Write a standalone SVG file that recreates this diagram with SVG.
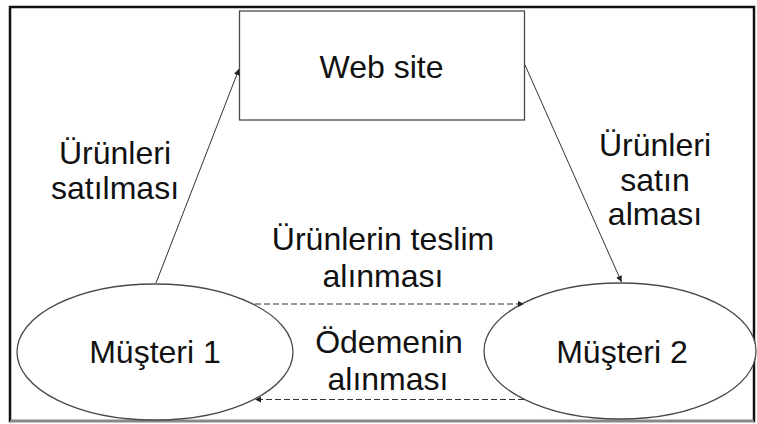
<svg xmlns="http://www.w3.org/2000/svg" width="757" height="424" viewBox="0 0 757 424">
  <style>
    .t { font-family: "Liberation Sans", Arial, sans-serif; font-size: 30.5px; fill: #111; text-anchor: middle; }
    .shape { fill: #fff; stroke: #4a4a4a; stroke-width: 1.3; }
    .solid { stroke: #333; stroke-width: 1; fill: none; }
    .dash { stroke: #333; stroke-width: 1; fill: none; stroke-dasharray: 6 3; }
  </style>
  <defs>
    <marker id="ah" viewBox="0 0 10 10" refX="10" refY="5" markerWidth="7" markerHeight="6" markerUnits="userSpaceOnUse" orient="auto">
      <path d="M0,0 L10,5 L0,10 z" fill="#222"/>
    </marker>
  </defs>
  <rect x="0" y="0" width="757" height="424" fill="#fff"/>
  <rect id="frame" x="10" y="7" width="744" height="414" fill="none" stroke="#111" stroke-width="2.5"/>
  <line x1="10" y1="421" x2="754" y2="421" stroke="#888" stroke-width="2"/>

  <g id="website">
    <rect class="shape" x="239.5" y="11" width="285" height="109"/>
    <text class="t" transform="translate(381.5,78) scale(1.05,1)">Web site</text>
  </g>
  <g id="musteri1">
    <ellipse class="shape" cx="155" cy="352" rx="138" ry="68"/>
    <text class="t" transform="translate(155,363) scale(1.05,1)">Müşteri 1</text>
  </g>
  <g id="musteri2">
    <ellipse class="shape" cx="620" cy="351" rx="136" ry="68"/>
    <text class="t" transform="translate(622,363) scale(1.05,1)">Müşteri 2</text>
  </g>

  <g id="connectors">
    <line class="solid" x1="156" y1="283" x2="239" y2="69" marker-end="url(#ah)"/>
    <line class="solid" x1="525" y1="65" x2="621.5" y2="282" marker-end="url(#ah)"/>
    <line class="dash" x1="255" y1="304" x2="524" y2="304" marker-end="url(#ah)"/>
    <line class="dash" x1="524" y1="399.5" x2="255" y2="399.5" marker-end="url(#ah)"/>
  </g>

  <g id="labels">
    <text class="t" transform="translate(115,164) scale(1.05,1)">Ürünleri</text>
    <text class="t" transform="translate(115,199) scale(1.05,1)">satılması</text>
    <text class="t" transform="translate(655,156) scale(1.05,1)">Ürünleri</text>
    <text class="t" transform="translate(655,191) scale(1.05,1)">satın</text>
    <text class="t" transform="translate(655,225) scale(1.05,1)">alması</text>
    <text class="t" transform="translate(383,250) scale(1.05,1)">Ürünlerin teslim</text>
    <text class="t" transform="translate(383,287) scale(1.05,1)">alınması</text>
    <text class="t" transform="translate(389,353) scale(1.05,1)">Ödemenin</text>
    <text class="t" transform="translate(388,390) scale(1.05,1)">alınması</text>
  </g>
</svg>
